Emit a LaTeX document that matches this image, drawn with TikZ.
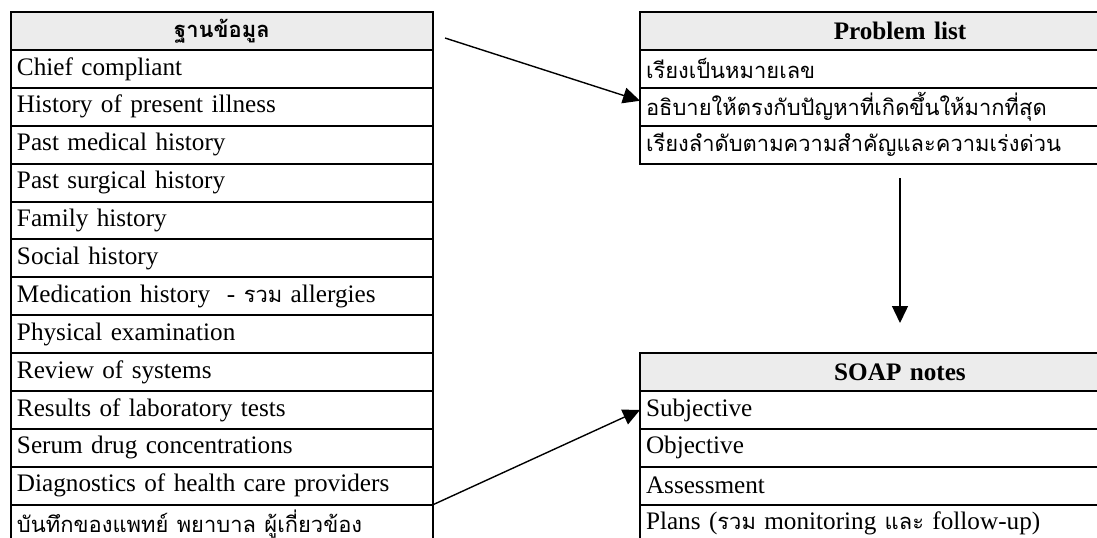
\documentclass[tikz,border=0pt]{standalone}
\usepackage{fontspec}
\setmainfont{Liberation Serif}
\newfontfamily\thaifont[Script=Thai,Scale=0.87]{Loma}
\newcommand{\thaitxt}[1]{{\thaifont #1}}
\usetikzlibrary{arrows.meta}

\begin{document}
\begin{tikzpicture}[x=0.5pt,y=-0.5pt,
  cell/.style={draw=black,line width=1pt,anchor=north west,outer sep=0pt,
    inner xsep=3pt,inner ysep=0pt,minimum height=18.95pt,
    font=\fontsize{12.6}{15}\selectfont},
  lcell/.style={cell,text width=205pt,align=left},
  rcell/.style={cell,text width=254pt,align=left},
  lhead/.style={lcell,fill=gray!15,align=center,font=\fontsize{12.6}{15}\selectfont\bfseries},
  rhead/.style={rcell,fill=gray!15,align=center,font=\fontsize{12.6}{15}\selectfont\bfseries},
  link/.style={line width=0.7pt,-{Triangle[length=8.5pt,width=8pt]}}]
\useasboundingbox (0,0) rectangle (1097,537);
\clip (0,0) rectangle (1097,537);
% left table
\node [lhead] (l0) at (11,12) {\thaitxt{ฐานข้อมูล}};
\foreach \t [count=\i] in {Chief compliant,History of present illness,
  Past medical history,Past surgical history,Family history,Social history,
  {Medication history~ - \thaitxt{รวม} allergies},Physical examination,
  Review of systems,Results of laboratory tests,Serum drug concentrations,
  Diagnostics of health care providers,
  {\thaitxt{บันทึกของแพทย์ พยาบาล ผู้เกี่ยวข้อง}}}
  \node [lcell] (l\i) at (11,{12+37.9*\i}) {\t};
% problem list
\node [rhead] (p0) at (640,12) {Problem list};
\foreach \t [count=\i] in {{\thaitxt{เรียงเป็นหมายเลข}},
  {\thaitxt{อธิบายให้ตรงกับปัญหาที่เกิดขึ้นให้มากที่สุด}},
  {\thaitxt{เรียงลำดับตามความสำคัญและความเร่งด่วน}}}
  \node [rcell] (p\i) at (640,{12+37.9*\i}) {\t};
% soap notes
\node [rhead] (s0) at (640,{12+37.9*9}) {SOAP notes};
\foreach \t [count=\i] in {Subjective,Objective,Assessment,
  {Plans (\thaitxt{รวม} monitoring \thaitxt{และ} follow-up)}}
  \node [rcell] (s\i) at (640,{12+37.9*(9+\i)}) {\t};
% arrows
\coordinate (a0) at (445,38);
\coordinate (v0) at (900,178);
\coordinate (v1) at (900,323);
\draw [link] (a0) -- ([yshift=3pt]p2.west);
\draw [link] (v0) -- (v1);
\draw [link] (l12.south east) -- (s1.west);
\end{tikzpicture}
\end{document}
